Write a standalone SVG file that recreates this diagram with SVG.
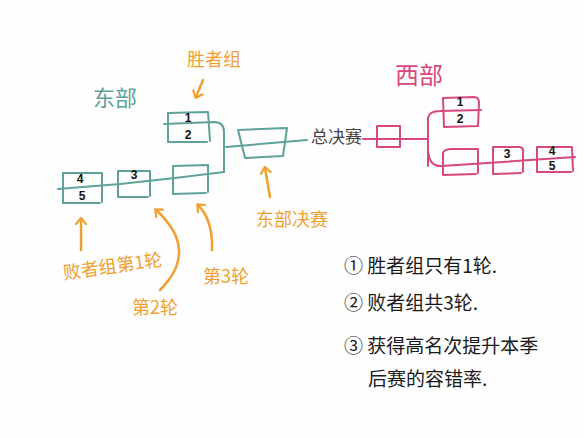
<svg xmlns="http://www.w3.org/2000/svg" width="584" height="438" viewBox="0 0 584 438">
<defs>
<style>
.t{fill:none;stroke:#5fa29c;stroke-width:2;stroke-linecap:round;stroke-linejoin:round}
.p{fill:none;stroke:#d8477f;stroke-width:2;stroke-linecap:round;stroke-linejoin:round}
.o{fill:none;stroke:#f0a030;stroke-width:2.5;stroke-linecap:round;stroke-linejoin:round}
.num{font-family:"Liberation Sans",sans-serif;font-weight:bold;font-size:12px;fill:#111;text-anchor:middle}
.cj{font-family:"Noto Sans CJK SC",sans-serif}
.lo{fill:#f0a030;font-size:18px}
.note{fill:#1a1a1a;font-size:19px}
</style>
<marker id="ah" viewBox="0 0 12 12" refX="6" refY="6" markerWidth="12" markerHeight="12" markerUnits="userSpaceOnUse" orient="auto">
<path d="M1,1 L7,6 L1,11" fill="none" stroke="#f0a030" stroke-width="2.2" stroke-linecap="round" stroke-linejoin="round"/>
</marker>
</defs>
<rect width="584" height="438" fill="#fefefe"/>

<g id="connectors">
<path class="t" d="M58,189 L120,184 L175,178 L224,172"/>
<path class="t" d="M164,124 L214,122 Q224,122 224,132 L224,172"/>
<path class="t" d="M226,147 L307,140"/>
<path class="p" d="M363,139 L427,139"/>
<path class="p" d="M428,166 L428,118 Q429,111 440,111 L481,110"/>
<path class="p" d="M428,150 Q429,167 442,166 L575,157"/>
<path class="o" d="M203,80 L196,97" marker-end="url(#ah)"/>
<path class="o" d="M270,197 L265,168" marker-end="url(#ah)"/>
<path class="o" d="M81,250 L81,219" marker-end="url(#ah)"/>
<path class="o" d="M160,290 Q200,250 156,210" marker-end="url(#ah)"/>
<path class="o" d="M212,250 Q213,220 198,205" marker-end="url(#ah)"/>
</g>

<g id="east-r1">
<path class="t" d="M63,173 L102,173 L102,202 M63,173 L63,203 L100,203"/>
<text class="num" x="80" y="183">4</text>
<text class="num" x="82" y="200">5</text>
</g>
<g id="east-r2">
<path class="t" d="M118,171 L150,171 L150,196 M118,171 L118,197 L148,197"/>
<text class="num" x="134" y="179">3</text>
</g>
<g id="east-r3">
<path class="t" d="M173,166 L208,165 L208,192 M173,166 L173,194 L206,193"/>
</g>
<g id="east-w">
<path class="t" d="M168,113 L208,112 L210,141 M168,113 L168,142 L207,142"/>
<text class="num" x="188" y="122">1</text>
<text class="num" x="188" y="139">2</text>
</g>
<g id="east-final">
<path class="t" d="M238,130 L287,128 L283,156 L245,158 Z"/>
</g>
<g id="west-final">
<path class="p" d="M377,126 L400,126 L400,147 L377,147 Z"/>
</g>
<g id="west-w">
<path class="p" d="M443,98 L474,97 Q479,97 479,103 L478,126 L444,127 L443,98"/>
<text class="num" x="460" y="106">1</text>
<text class="num" x="460" y="123">2</text>
</g>
<g id="west-r3">
<path class="p" d="M443,153 Q444,149 452,149 L478,149 L478,173 M443,153 L443,175 L476,174"/>
</g>
<g id="west-r2">
<path class="p" d="M493,147 L520,147 Q524,148 523,153 L523,172 M493,147 L493,174 L521,173"/>
<text class="num" x="507" y="158">3</text>
</g>
<g id="west-r1">
<path class="p" d="M537,147 L572,147 L573,171 M537,147 L537,172 L571,172"/>
<text class="num" x="552" y="155">4</text>
<text class="num" x="552" y="170">5</text>
</g>

<g id="labels">
<text class="cj" x="93" y="106" font-size="22" fill="#5fa29c">东部</text>
<text class="cj" x="395" y="84" font-size="24" fill="#d8477f">西部</text>
<text class="cj" x="311" y="143" font-size="17" fill="#444">总决赛</text>
<text class="cj lo" x="187" y="66">胜者组</text>
<text class="cj lo" x="256" y="226">东部决赛</text>
<text class="cj lo" x="62" y="272" transform="rotate(-8 117 262)">败者组第1轮</text>
<text class="cj lo" x="132" y="314" font-size="20">第2轮</text>
<text class="cj lo" x="203" y="283">第3轮</text>
</g>

<g id="notes">
<text class="cj note" x="344" y="273">① 胜者组只有1轮.</text>
<text class="cj note" x="344" y="310">② 败者组共3轮.</text>
<text class="cj note" x="344" y="353">③ 获得高名次提升本季</text>
<text class="cj note" x="368" y="386">后赛的容错率.</text>
</g>
</svg>
